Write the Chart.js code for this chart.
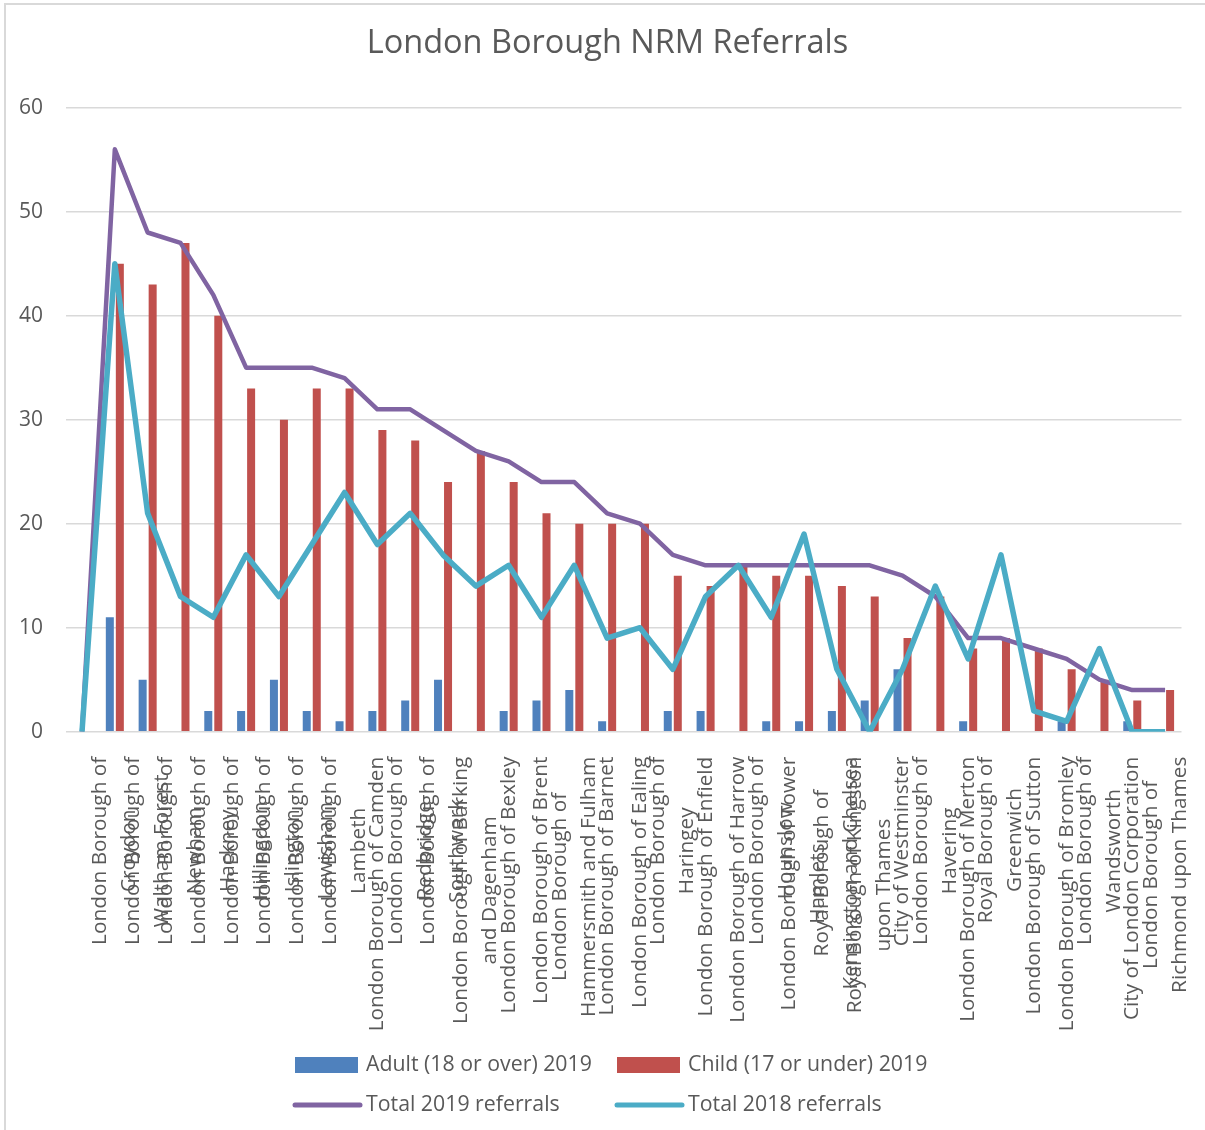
<!DOCTYPE html>
<html>
<head>
<meta charset="utf-8">
<script src="https://cdn.jsdelivr.net/npm/chart.js@4.4.1/dist/chart.umd.min.js"></script>
<style>
html, body { margin: 0; padding: 0; background: #ffffff; overflow: hidden; }
#wrap { position: relative; width: 1205px; height: 1130px; overflow: hidden; }
#frame { position: absolute; left: 4px; top: 3px; width: 1400px; height: 1400px; border: 2px solid #d9d9d9; box-sizing: border-box; }
#c { position: absolute; left: 0; top: 0; }
</style>
</head>
<body>
<div id="wrap"><div id="frame"></div><canvas id="c" width="1205" height="1130"></canvas></div>
<script>
// ---- data ----
const chartTitle = 'London Borough NRM Referrals';
const categories = [
  [''],
  ['London Borough of', 'Croydon'],
  ['London Borough of', 'Waltham Forest'],
  ['London Borough of', 'Newham'],
  ['London Borough of', 'Hackney'],
  ['London Borough of', 'Hillingdon'],
  ['London Borough of', 'Islington'],
  ['London Borough of', 'Lewisham'],
  ['London Borough of', 'Lambeth'],
  ['London Borough of Camden'],
  ['London Borough of', 'Redbridge'],
  ['London Borough of', 'Southwark'],
  ['London Borough of Barking', 'and Dagenham'],
  ['London Borough of Bexley'],
  ['London Borough of Brent'],
  ['London Borough of', 'Hammersmith and Fulham'],
  ['London Borough of Barnet'],
  ['London Borough of Ealing'],
  ['London Borough of', 'Haringey'],
  ['London Borough of Enfield'],
  ['London Borough of Harrow'],
  ['London Borough of', 'Hounslow'],
  ['London Borough of Tower', 'Hamlets'],
  ['Royal Borough of', 'Kensington and Chelsea'],
  ['Royal Borough of Kingston', 'upon Thames'],
  ['City of Westminster'],
  ['London Borough of', 'Havering'],
  ['London Borough of Merton'],
  ['Royal Borough of', 'Greenwich'],
  ['London Borough of Sutton'],
  ['London Borough of Bromley'],
  ['London Borough of', 'Wandsworth'],
  ['City of London Corporation'],
  ['London Borough of', 'Richmond upon Thames']
];
const adult2019 = [0, 11, 5, 0, 2, 2, 5, 2, 1, 2, 3, 5, 0, 2, 3, 4, 1, 0, 2, 2, 0, 1, 1, 2, 3, 6, 0, 1, 0, 0, 1, 0, 1, 0];
const child2019 = [0, 45, 43, 47, 40, 33, 30, 33, 33, 29, 28, 24, 27, 24, 21, 20, 20, 20, 15, 14, 16, 15, 15, 14, 13, 9, 13, 8, 9, 8, 6, 5, 3, 4];
const total2019 = [0, 56, 48, 47, 42, 35, 35, 35, 34, 31, 31, 29, 27, 26, 24, 24, 21, 20, 17, 16, 16, 16, 16, 16, 16, 15, 13, 9, 9, 8, 7, 5, 4, 4];
const total2018 = [0, 45, 21, 13, 11, 17, 13, 18, 23, 18, 21, 17, 14, 16, 11, 16, 9, 10, 6, 13, 16, 11, 19, 6, 0, 6, 14, 7, 17, 2, 1, 8, 0, 0];
const seriesNames = ['Adult (18 or over) 2019', 'Child (17 or under) 2019', 'Total 2019 referrals', 'Total 2018 referrals'];
const yTicks = [0, 10, 20, 30, 40, 50, 60];

// ---- styles ----
const TEXT = '#595959';
const FONT = '"Open Sans", "Noto Sans", sans-serif';
const colors = ['#4F81BD', '#C0504D', '#8064A2', '#4BACC6'];

// custom rotated, centred multi-line category labels (Excel style)
const xLabelPlugin = {
  id: 'xLabels',
  afterDraw(chart) {
    const ctx = chart.ctx;
    const xs = chart.scales.x;
    const LH = 29;
    const top = chart.chartArea.bottom + 25;
    ctx.save();
    ctx.font = '20.8px ' + FONT;
    ctx.fillStyle = TEXT;
    ctx.textBaseline = 'middle';
    ctx.textAlign = 'center';
    categories.forEach((lines, i) => {
      if (lines.join('') === '') return;
      const maxW = Math.max(...lines.map(l => ctx.measureText(l).width));
      const x = xs.getPixelForValue(i);
      ctx.save();
      ctx.translate(x, top);
      ctx.rotate(-Math.PI / 2);
      lines.forEach((l, j) => {
        ctx.fillText(l, -maxW / 2, (j - (lines.length - 1) / 2) * LH);
      });
      ctx.restore();
    });
    ctx.restore();
  }
};

// Excel-like two-column legend
const legendPlugin = {
  id: 'excelLegend',
  afterDraw(chart) {
    const ctx = chart.ctx;
    const cols = [295, 617];
    const rows = [1065, 1105];
    ctx.save();
    ctx.font = '21.3px ' + FONT;
    ctx.textBaseline = 'middle';
    ctx.textAlign = 'left';
    chart.data.datasets.forEach((ds, i) => {
      const x = cols[i % 2];
      const y = rows[Math.floor(i / 2)];
      if (ds.type === 'line') {
        ctx.strokeStyle = ds.borderColor;
        ctx.lineWidth = 5;
        ctx.lineCap = 'round';
        ctx.beginPath();
        ctx.moveTo(x, y);
        ctx.lineTo(x + 65, y);
        ctx.stroke();
      } else {
        ctx.fillStyle = ds.backgroundColor;
        ctx.fillRect(x, y - 8, 63, 16);
      }
      ctx.fillStyle = TEXT;
      ctx.fillText(ds.label, x + 71, y);
    });
    ctx.restore();
  }
};

function draw() {
  new Chart(document.getElementById('c'), {
    type: 'bar',
    data: {
      labels: categories,
      datasets: [
        { type: 'bar', label: seriesNames[0], data: adult2019, backgroundColor: colors[0], borderWidth: 0,
          barPercentage: 0.8, categoryPercentage: 0.61, order: 2 },
        { type: 'bar', label: seriesNames[1], data: child2019, backgroundColor: colors[1], borderWidth: 0,
          barPercentage: 0.8, categoryPercentage: 0.61, order: 2 },
        { type: 'line', label: seriesNames[2], data: total2019, borderColor: colors[2], backgroundColor: colors[2],
          borderWidth: 4.5, pointRadius: 0, tension: 0, fill: false, borderJoinStyle: 'round', borderCapStyle: 'butt', order: 1 },
        { type: 'line', label: seriesNames[3], data: total2018, borderColor: colors[3], backgroundColor: colors[3],
          borderWidth: 5.5, pointRadius: 0, tension: 0, fill: false, borderJoinStyle: 'round', borderCapStyle: 'butt', order: 0 }
      ]
    },
    options: {
      responsive: false,
      animation: false,
      events: [],
      layout: { padding: { left: 10, right: 0, top: 0, bottom: 98.3 } },
      plugins: {
        legend: { display: false },
        tooltip: { enabled: false },
        title: {
          display: true,
          text: chartTitle,
          color: TEXT,
          font: { family: FONT, size: 32.5, weight: 'normal', lineHeight: 1.2 },
          padding: { top: 24.5, bottom: 44.2 }
        }
      },
      scales: {
        x: {
          offset: true,
          grid: { display: false },
          border: { display: false },
          ticks: { display: false },
          afterFit(s) { s.height = 300; }
        },
        y: {
          position: 'left',
          min: 0,
          max: 60,
          afterBuildTicks(s) { s.ticks = yTicks.map(v => ({ value: v })); },
          ticks: { color: TEXT, font: { family: FONT, size: 21 }, padding: 22.6 },
          grid: { color: '#d9d9d9', lineWidth: 1.5, drawTicks: false },
          border: { display: false },
          afterFit(s) { s.width = 55.6; }
        },
        yRightGap: {
          type: 'linear',
          position: 'right',
          display: true,
          min: 0,
          max: 60,
          grid: { display: false, drawTicks: false },
          border: { display: false },
          ticks: { display: false },
          afterFit(s) { s.width = 23.5; }
        }
      }
    },
    plugins: [xLabelPlugin, legendPlugin]
  });
}

if (document.fonts && document.fonts.load) {
  Promise.all([
    document.fonts.load('21px "Open Sans"'),
    document.fonts.load('32px "Open Sans"')
  ]).then(draw, draw);
} else {
  draw();
}
</script>
</body>
</html>
